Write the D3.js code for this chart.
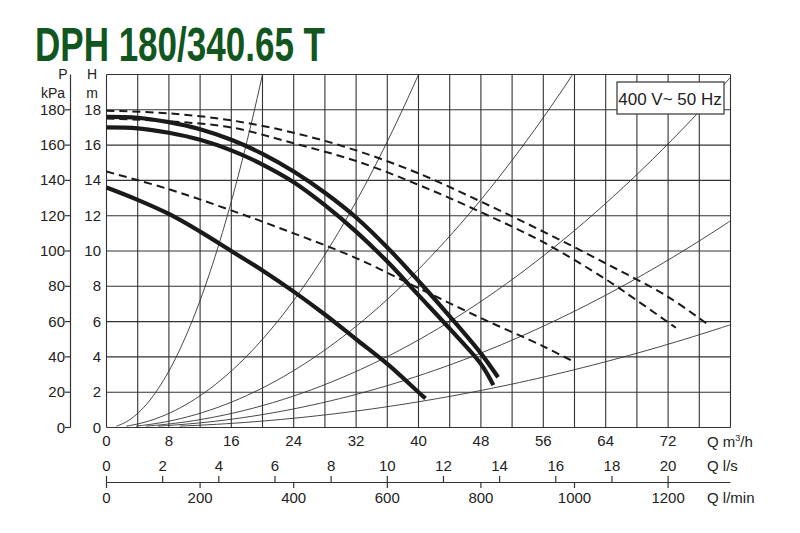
<!DOCTYPE html>
<html>
<head>
<meta charset="utf-8">
<script src="https://cdn.jsdelivr.net/npm/d3@7"></script>
<style>
  body { margin: 0; background: #fff; }
  svg text { font-family: "Liberation Sans Narrow", "Liberation Sans", Arial, sans-serif; fill: #222; }
</style>
</head>
<body>
<svg id="chart" width="800" height="533"></svg>
<script>
// pump curves, [Q m3/h, H m]
const solidHigh = [[0,17.6],[4,17.55],[8,17.3],[12,16.9],[16,16.3],[20,15.5],[24,14.5],[28,13.3],[32,11.9],[36,10.2],[40,8.3],[44,6.3],[48,4.2],[50.2,2.85]];
const solidMid = [[0,17.0],[4,16.95],[8,16.7],[12,16.3],[16,15.7],[20,14.9],[24,13.9],[28,12.6],[32,11.1],[36,9.4],[40,7.5],[44,5.6],[48,3.6],[49.6,2.4]];
const solidLow = [[0,13.6],[4,12.9],[8,12.1],[12,11.1],[16,10.0],[20,8.9],[24,7.7],[28,6.4],[32,5.0],[36,3.6],[40,2.0],[40.9,1.65]];
const dashHigh = [[0,17.95],[8,17.8],[16,17.4],[24,16.7],[32,15.7],[40,14.4],[48,12.8],[56,11.1],[64,9.3],[72,7.4],[76.9,5.9]];
const dashMid = [[0,17.5],[8,17.35],[16,17.0],[24,16.1],[32,15.1],[40,13.75],[48,12.2],[56,10.5],[64,8.4],[68,7.2],[73,5.65]];
const dashLow = [[0,14.5],[8,13.5],[16,12.3],[24,11.0],[32,9.6],[40,7.9],[48,6.2],[56,4.6],[60,3.7]];
// system parabolas H = k*Q^2
const systemK = [0.05, 0.0125, 0.0056, 0.0031, 0.00183, 0.00091];

const qTicks = [0,8,16,24,32,40,48,56,64,72];
const lsTicks = [0,2,4,6,8,10,12,14,16,18,20];
const lminTicks = [0,200,400,600,800,1000,1200];
const hTicks = [0,2,4,6,8,10,12,14,16,18];
const pTicks = [0,20,40,60,80,100,120,140,160,180];

const svg = d3.select('#chart');
const x = d3.scaleLinear().domain([0, 80]).range([106.5, 730.5]);
const y = d3.scaleLinear().domain([0, 20]).range([427.5, 74.5]);

svg.append('text')
  .attr('x', 35).attr('y', 61)
  .attr('textLength', 290).attr('lengthAdjust', 'spacingAndGlyphs')
  .style('font-size', '49px').style('font-weight', 'bold').style('fill', '#12561f')
  .text('DPH 180/340.65 T');

// grid
const grid = svg.append('g').attr('stroke', '#333').attr('stroke-width', 1.1);
grid.selectAll('.v').data(d3.range(0, 81, 4)).enter().append('line')
  .attr('x1', d => x(d)).attr('x2', d => x(d)).attr('y1', y(20)).attr('y2', y(0));
grid.selectAll('.h').data(d3.range(0, 21, 2)).enter().append('line')
  .attr('x1', x(0)).attr('x2', x(80)).attr('y1', d => y(d)).attr('y2', d => y(d));

const plot = svg.append('g');
plot.append('clipPath').attr('id', 'clip').append('rect')
  .attr('x', x(0)).attr('y', y(20)).attr('width', x(80) - x(0)).attr('height', y(0) - y(20));
const line = d3.line().x(d => x(d[0])).y(d => y(d[1])).curve(d3.curveCatmullRom.alpha(0.5));

// system curves
systemK.forEach(k => {
  let q0 = Math.sqrt(0.08 / k);
  let q1 = Math.min(80, Math.sqrt(20.5 / k));
  let pts = d3.range(q0, q1, (q1 - q0) / 60).concat([q1]).map(q => [q, k * q * q]);
  plot.append('path').attr('d', line(pts)).attr('clip-path', 'url(#clip)')
    .attr('fill', 'none').attr('stroke', '#333').attr('stroke-width', 0.9);
});

[dashHigh, dashMid, dashLow].forEach(s => {
  plot.append('path').attr('d', line(s)).attr('fill', 'none')
    .attr('stroke', '#1a1a1a').attr('stroke-width', 2).attr('stroke-dasharray', '8,5');
});
[solidHigh, solidMid, solidLow].forEach(s => {
  plot.append('path').attr('d', line(s)).attr('fill', 'none')
    .attr('stroke', '#1a1a1a').attr('stroke-width', 4.2);
});

// legend box
svg.append('rect').attr('x', 617).attr('y', 82).attr('width', 107).attr('height', 32)
  .attr('fill', '#fff').attr('stroke', '#333').attr('stroke-width', 1.2);
svg.append('text').attr('x', 670).attr('y', 105).attr('text-anchor', 'middle')
  .style('font-size', '17px').text('400 V~ 50 Hz');

// H labels
svg.selectAll('.hl').data(hTicks).enter().append('text')
  .attr('x', 101).attr('y', d => y(d) + 5).attr('text-anchor', 'end')
  .style('font-size', '15px').text(d => d);
svg.append('text').attr('x', 92).attr('y', 79).attr('text-anchor', 'middle').style('font-size', '14px').text('H');
svg.append('text').attr('x', 92).attr('y', 98).attr('text-anchor', 'middle').style('font-size', '14px').text('m');

// P axis
const p = d3.scaleLinear().domain([0, 200]).range([y(0), y(20)]);
svg.append('line').attr('x1', 70.5).attr('x2', 70.5).attr('y1', y(20)).attr('y2', y(0))
  .attr('stroke', '#333').attr('stroke-width', 1.2);
svg.selectAll('.pt').data(pTicks).enter().append('line')
  .attr('x1', 65).attr('x2', 70.5).attr('y1', d => p(d)).attr('y2', d => p(d))
  .attr('stroke', '#333').attr('stroke-width', 1.2);
svg.selectAll('.pl').data(pTicks).enter().append('text')
  .attr('x', 65).attr('y', d => p(d) + 5).attr('text-anchor', 'end')
  .style('font-size', '15px').text(d => d);
svg.append('text').attr('x', 63).attr('y', 79).attr('text-anchor', 'middle').style('font-size', '14px').text('P');
svg.append('text').attr('x', 53).attr('y', 98).attr('text-anchor', 'middle').style('font-size', '14px').text('kPa');

// Q m3/h
svg.selectAll('.ql').data(qTicks).enter().append('text')
  .attr('x', d => x(d)).attr('y', 446).attr('text-anchor', 'middle')
  .style('font-size', '15px').text(d => d);
const qm = svg.append('text').attr('x', 707).attr('y', 447).style('font-size', '15px');
qm.append('tspan').text('Q m');
qm.append('tspan').attr('dy', -6).style('font-size', '9px').text('3');
qm.append('tspan').attr('dy', 6).text('/h');

// l/s and l/min scale
const xls = d3.scaleLinear().domain([0, 20]).range([x(0), x(72)]);
const xlm = d3.scaleLinear().domain([0, 1200]).range([x(0), x(72)]);
svg.append('line').attr('x1', x(0)).attr('x2', x(80)).attr('y1', 482.5).attr('y2', 482.5)
  .attr('stroke', '#333').attr('stroke-width', 1.2);
svg.selectAll('.lst').data(lsTicks).enter().append('line')
  .attr('x1', d => xls(d)).attr('x2', d => xls(d)).attr('y1', 476).attr('y2', 482.5)
  .attr('stroke', '#333').attr('stroke-width', 1.2);
svg.selectAll('.lsl').data(lsTicks).enter().append('text')
  .attr('x', d => xls(d)).attr('y', 471).attr('text-anchor', 'middle')
  .style('font-size', '15px').text(d => d);
svg.append('text').attr('x', 707).attr('y', 471).style('font-size', '15px').text('Q l/s');
svg.selectAll('.lmt').data(lminTicks).enter().append('line')
  .attr('x1', d => xlm(d)).attr('x2', d => xlm(d)).attr('y1', 482.5).attr('y2', 488)
  .attr('stroke', '#333').attr('stroke-width', 1.2);
svg.selectAll('.lml').data(lminTicks).enter().append('text')
  .attr('x', d => xlm(d)).attr('y', 503).attr('text-anchor', 'middle')
  .style('font-size', '15px').text(d => d);
svg.append('text').attr('x', 707).attr('y', 503).style('font-size', '15px').text('Q l/min');
</script>
</body>
</html>
